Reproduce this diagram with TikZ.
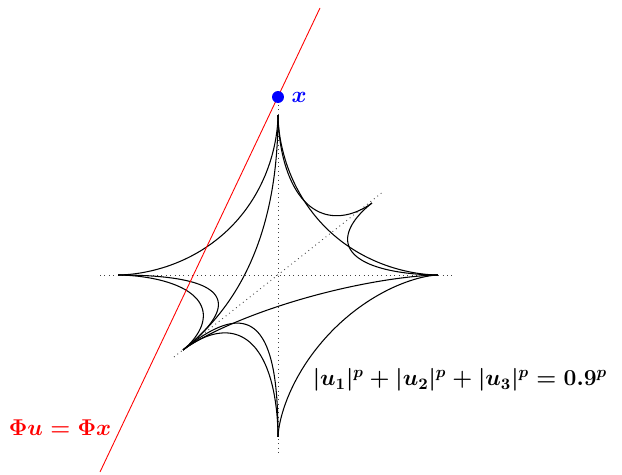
\documentclass[tikz,border=0pt]{standalone}
\usepackage{fix-cm}
\usepackage{amsmath,amssymb}
\usepackage{tikz}
\usetikzlibrary{positioning,calc}
\usepackage{xcolor}
\tikzset{
  surf/.style={draw=black, line width=0.6pt},
  axis/.style={draw=black!75, dotted, line width=0.5pt},
  nullsp/.style={draw=red, line width=0.5pt},
  pt/.style={circle, fill=blue, inner sep=0pt, minimum size=6.8pt},
  lab/.style={font=\fontsize{13}{15}\selectfont\boldmath, inner sep=1pt},
}
% quarter of the p-ball outline between vertex vectors (#1,#2) and (#3,#4), exponent #5
\newcommand{\qarc}[5]{%
  \draw[surf] plot[domain=0.05:89.95, samples=100, smooth]
    ({(#1)*cos(\x)^(#5) + (#3)*sin(\x)^(#5)}, {(#2)*cos(\x)^(#5) + (#4)*sin(\x)^(#5)});}

\begin{document}
\begin{tikzpicture}[x=0.02cm, y=-0.02cm]
\useasboundingbox (0,0) rectangle (622,475);
\coordinate (O) at (278,275);
% dotted axes
\coordinate (xl) at (100,275);
\coordinate (xr) at (455,275);
\coordinate (zt) at (278,105);
\coordinate (zb) at (278,455);
\coordinate (yf) at (174,357);
\coordinate (yb) at (384,191);
\draw[axis] (xl) -- (xr);
\draw[axis] (zt) -- (zb);
\draw[axis] (yf) -- (yb);
% outline of the ball
\begin{scope}[shift={(O)}]
\qarc{-160}{0}{0}{-160}{3.5}   % left - top
\qarc{0}{-160}{160}{0}{3.5}    % top - right
\qarc{0}{-160}{94}{-72}{3.4}   % top - back
\qarc{94}{-72}{160}{0}{3.5}    % back - right
\qarc{0}{-160}{-95}{75}{4}     % top - front
\qarc{-160}{0}{-95}{75}{4}     % left - front
\qarc{-160}{0}{-95}{75}{3.3}
\qarc{-95}{75}{160}{0}{3.2}    % front - right
\qarc{-95}{75}{0}{162}{3.6}    % front - bottom
\qarc{-95}{75}{0}{162}{4.2}
\qarc{160}{0}{0}{162}{3.1}     % right - bottom
\end{scope}
% affine space
\coordinate (n1) at (100,472);
\coordinate (n2) at (320,8);
\draw[nullsp] (n1) -- (n2);
\node[pt] (xpt) at (278,97) {};
\node[lab, text=blue, right=3pt of xpt] (xlab) {$x$};
\node[lab, text=red] (aff) at (60,428) {$\Phi u = \Phi x$};
\node[lab] (ball) at (460,380) {$|u_1|^p+|u_2|^p+|u_3|^p=0.9^p$};
\end{tikzpicture}
\end{document}
